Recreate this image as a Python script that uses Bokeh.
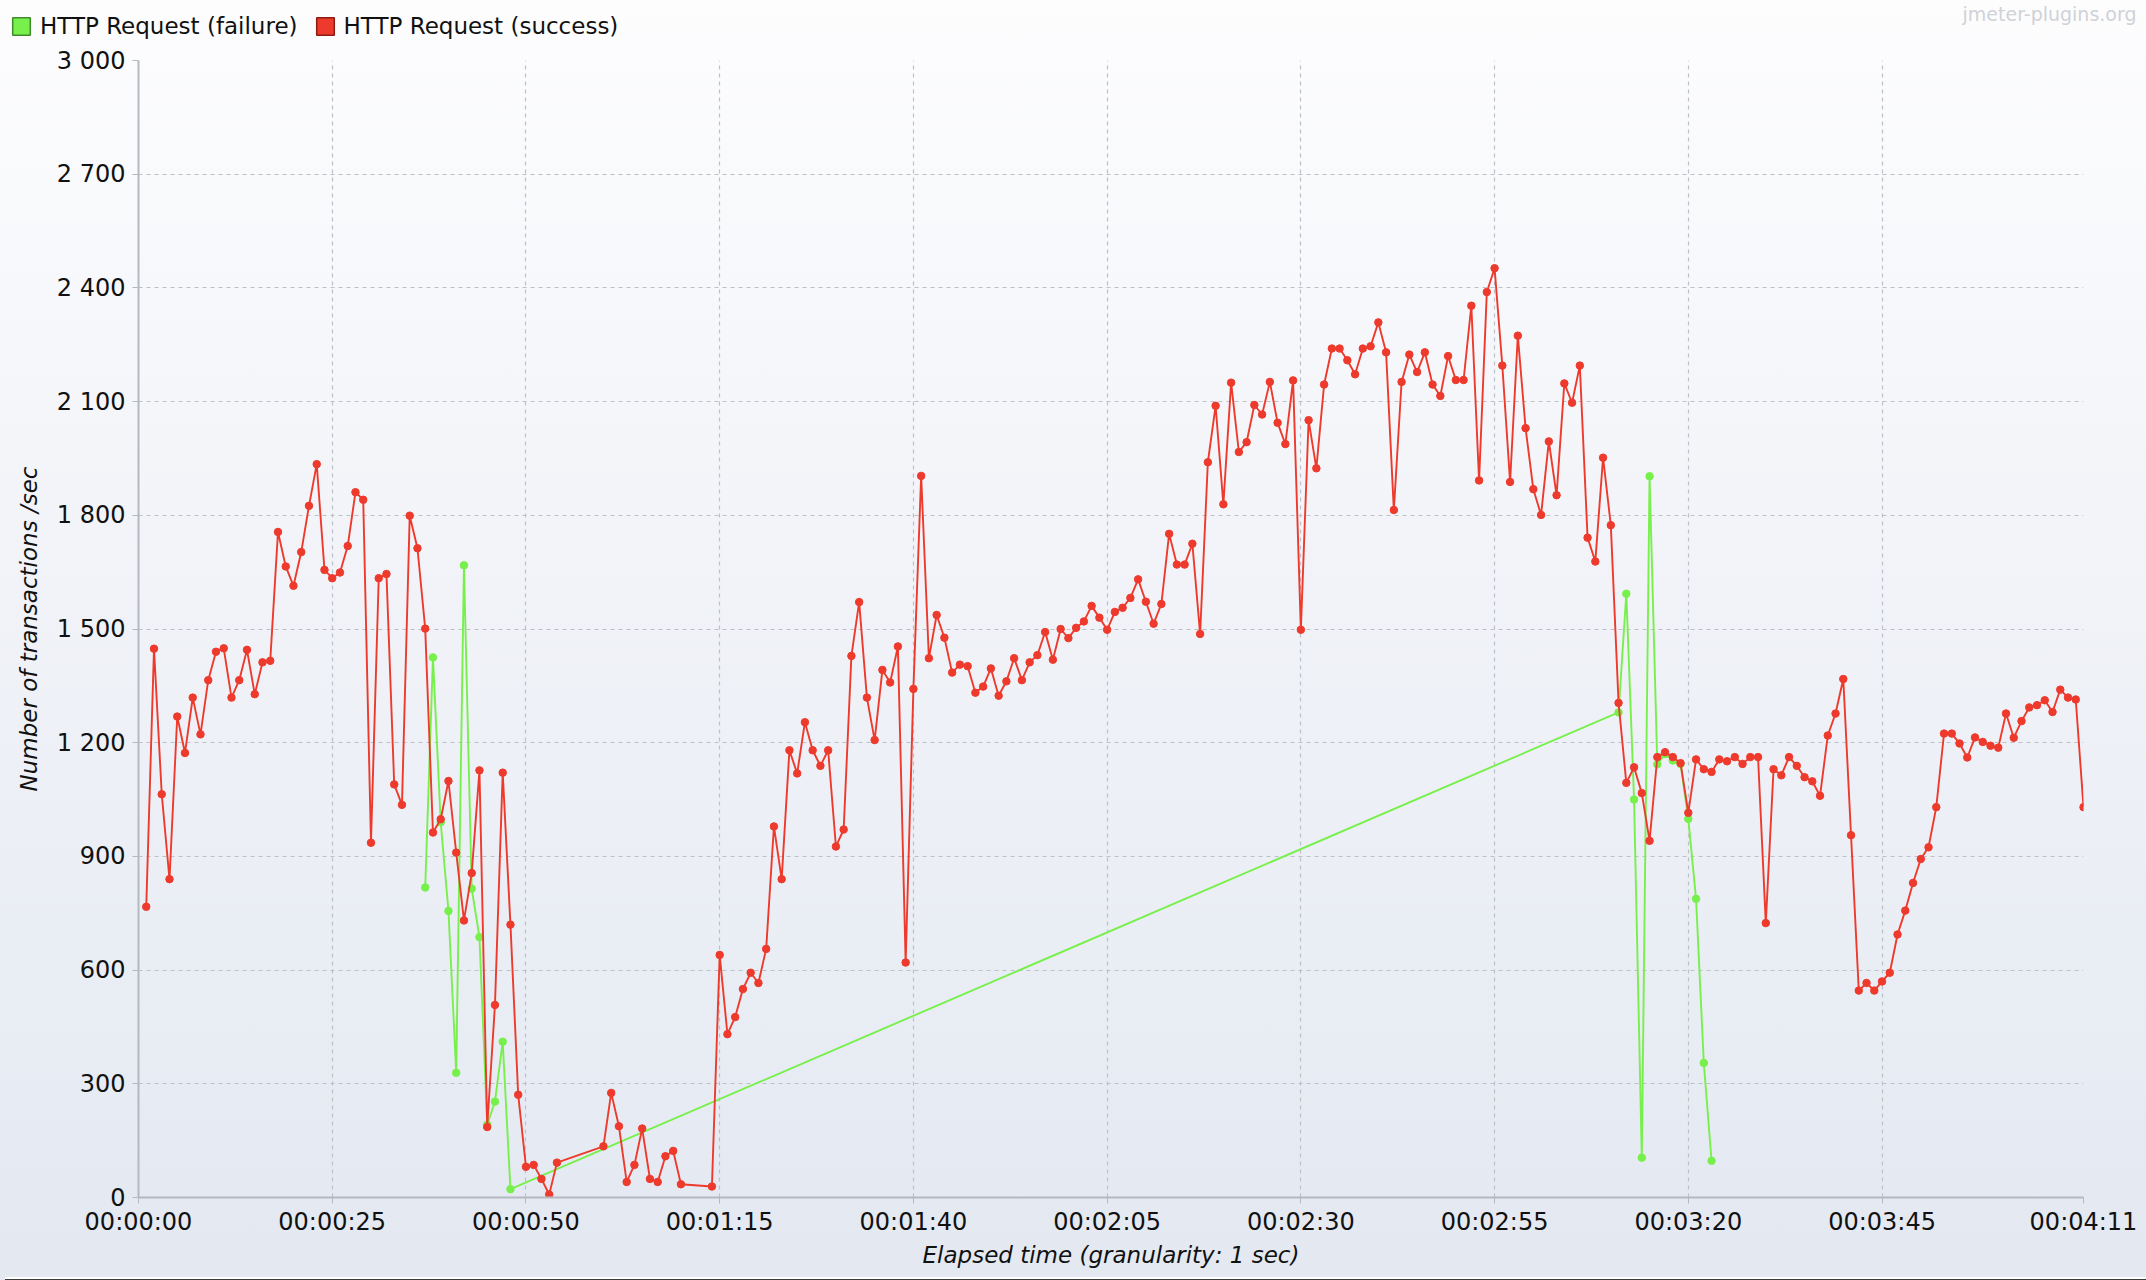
from bokeh.plotting import figure
from bokeh.layouts import column
from bokeh.models import (Legend, LegendItem, Label, FixedTicker, Range1d,
                          ColumnDataSource, Div)
from bokeh.embed import file_html
from bokeh.resources import INLINE

# ---- data (seconds elapsed, transactions/sec) ----
success_secs = (list(range(1, 55)) + list(range(60, 71)) + list(range(74, 252)))
success_vals = [
    767, 1448, 1064, 840, 1269, 1173, 1319, 1222, 1365, 1440,
    1449, 1319, 1365, 1445, 1328, 1412, 1416, 1756, 1665, 1614,
    1703, 1825, 1935, 1656, 1634, 1649, 1719, 1861, 1841, 936,
    1634, 1645, 1090, 1036, 1799, 1713, 1501, 963, 998, 1099,
    910, 731, 856, 1127, 186, 508, 1121, 720, 271, 81,
    86, 49, 8, 92,
    135, 276, 188, 41, 86, 182, 49, 41, 109, 123, 35,
    29, 640, 431, 476, 550, 593, 566, 656, 979, 840,
    1180, 1119, 1254, 1180, 1139, 1180, 926, 971, 1429, 1571,
    1319, 1207, 1392, 1359, 1454, 620, 1342, 1904, 1423, 1537,
    1477, 1385, 1406, 1402, 1332, 1348, 1396, 1324, 1362, 1423,
    1365, 1412, 1431, 1492, 1419, 1500, 1476, 1503, 1520, 1561,
    1530, 1498, 1545, 1556, 1582, 1631, 1572, 1514, 1566, 1751,
    1670, 1670, 1725, 1487, 1940, 2089, 1829, 2150, 1967, 1993,
    2091, 2066, 2152, 2044, 1988, 2156, 1498, 2051, 1924, 2145,
    2240, 2240, 2209, 2172, 2240, 2246, 2309, 2230, 1814, 2152,
    2224, 2178, 2230, 2145, 2115, 2220, 2157, 2157, 2353, 1892,
    2389, 2452, 2195, 1888, 2274, 2030, 1869, 1801, 1995, 1853,
    2148, 2097, 2195, 1741, 1678, 1952, 1774, 1305, 1094, 1135,
    1067, 941, 1162, 1175, 1162, 1146, 1015, 1156, 1130, 1123,
    1156, 1151, 1162, 1144, 1162, 1162, 724, 1130, 1114, 1162,
    1139, 1109, 1098, 1060, 1219, 1277, 1368, 956, 546, 566,
    546, 570, 593, 694, 757, 830, 893, 924, 1030, 1224,
    1224, 1198, 1161, 1214, 1202, 1192, 1187, 1277, 1213, 1257,
    1293, 1299, 1312, 1281, 1340, 1319, 1314, 1030,
]

failure_secs = list(range(37, 49)) + list(range(191, 204))
failure_vals = [
    818, 1425, 990, 756, 329, 1668, 815, 687, 192, 253, 411, 22,
    1280, 1593, 1050, 105, 1903, 1143, 1170, 1153, 1144, 999, 788, 355, 97,
]

x_tick_secs = [0, 25, 50, 75, 100, 125, 150, 175, 200, 225, 251]
y_tick_vals = [0, 300, 600, 900, 1200, 1500, 1800, 2100, 2400, 2700, 3000]
series_names = ["HTTP Request (failure)", "HTTP Request (success)"]
x_title = "Elapsed time (granularity: 1 sec)"
y_title = "Number of transactions /sec"
watermark = "jmeter-plugins.org"

GREEN = "#78f04c"
RED = "#ee3a2c"
FONT = "DejaVu Sans"
NAN = float("nan")


def hms(s):
    return "%02d:%02d:%02d" % (s // 3600, (s % 3600) // 60, s % 60)


W = 2146
TOP_H = 44
BL, BR, BT, BB = 138, 63, 16, 75
FH = 1137
H = BT + FH + BB

# ---------- header strip: legend + watermark ----------
top = figure(width=W, height=TOP_H, output_backend="svg", toolbar_location=None,
             x_range=Range1d(0, 1), y_range=Range1d(0, 1),
             x_axis_type=None, y_axis_type=None,
             min_border_left=0, min_border_right=0, min_border_top=0, min_border_bottom=0)
top.frame_align = False
top.border_fill_color = None
top.background_fill_color = None
top.outline_line_color = None
top.grid.visible = False

# legend swatches (no visible marks of their own)
lf = top.quad(left=[NAN], right=[NAN], top=[NAN], bottom=[NAN],
              fill_color=GREEN, line_color="#3f8a2a", line_width=1.5)
ls = top.quad(left=[NAN], right=[NAN], top=[NAN], bottom=[NAN],
              fill_color=RED, line_color="#8e1c12", line_width=1.5)
legend = Legend(items=[LegendItem(label=series_names[0], renderers=[lf]),
                       LegendItem(label=series_names[1], renderers=[ls])],
                orientation="horizontal", location=(10, 5),
                glyph_width=22, glyph_height=22, label_standoff=8, spacing=16,
                padding=2, margin=0, border_line_color=None,
                background_fill_alpha=0,
                label_text_font=FONT, label_text_font_size="23px",
                label_text_color="#111111")
top.add_layout(legend, "center")
top.add_layout(Label(x=W - 10, y=TOP_H - 13, x_units="screen", y_units="screen",
                     text=watermark, text_align="right", text_baseline="middle",
                     text_font=FONT, text_font_size="19px", text_color="#cfd2d7"))

# ---------- main chart ----------
p = figure(width=W, height=H, output_backend="svg", toolbar_location=None,
           x_range=Range1d(0, 251), y_range=Range1d(0, 3000),
           min_border_left=BL, min_border_right=BR, min_border_top=BT,
           min_border_bottom=BB)
p.frame_align = False
p.border_fill_color = None
p.background_fill_color = None
p.outline_line_color = None

src_f = ColumnDataSource(dict(x=failure_secs, y=failure_vals))
src_s = ColumnDataSource(dict(x=success_secs, y=success_vals))

p.line("x", "y", source=src_f, line_color=GREEN, line_width=1.9)
p.scatter("x", "y", source=src_f, size=7.5, fill_color=GREEN, line_color=GREEN)
p.line("x", "y", source=src_s, line_color=RED, line_width=1.9)
p.scatter("x", "y", source=src_s, size=7.5, fill_color=RED, line_color=RED)

for ax in (p.xaxis[0], p.yaxis[0]):
    ax.axis_line_color = "#b4b9c1"
    ax.axis_line_width = 2
    ax.major_tick_line_color = "#b4b9c1"
    ax.major_tick_in = 0
    ax.major_tick_out = 6
    ax.minor_tick_line_color = None
    ax.major_label_text_font = FONT
    ax.major_label_text_font_size = "24px"
    ax.major_label_text_color = "#111111"
    ax.axis_label_text_font = FONT
    ax.axis_label_text_font_size = "23px"
    ax.axis_label_text_font_style = "italic"
    ax.axis_label_text_color = "#111111"

p.xaxis.ticker = FixedTicker(ticks=x_tick_secs)
p.xaxis.major_label_overrides = {s: hms(s) for s in x_tick_secs}
p.xaxis.axis_label = x_title
p.xaxis.major_label_standoff = 4
p.xaxis.axis_label_standoff = 3

p.yaxis.ticker = FixedTicker(ticks=y_tick_vals)
p.yaxis.major_label_overrides = {v: f"{v:,}".replace(",", " ") for v in y_tick_vals}
p.yaxis.axis_label = y_title
p.yaxis.major_label_standoff = 7
p.yaxis.axis_label_standoff = 12

for g in (p.xgrid[0], p.ygrid[0]):
    g.grid_line_color = "#bcc0c7"
    g.grid_line_width = 1.2
    g.grid_line_dash = "4 4"

bar = Div(text="", width=W, height=8,
          styles={"background-color": "#3b3b3b", "border-top": "2px solid #ffffff",
                  "box-sizing": "border-box"})

layout = column(top, p, bar, spacing=0)
layout.styles = {"background": "linear-gradient(to bottom, #fdfdfe 0%, #f1f3f8 45%, #e3e8f1 100%)"}

open("out.html", "w").write(file_html(layout, INLINE))
